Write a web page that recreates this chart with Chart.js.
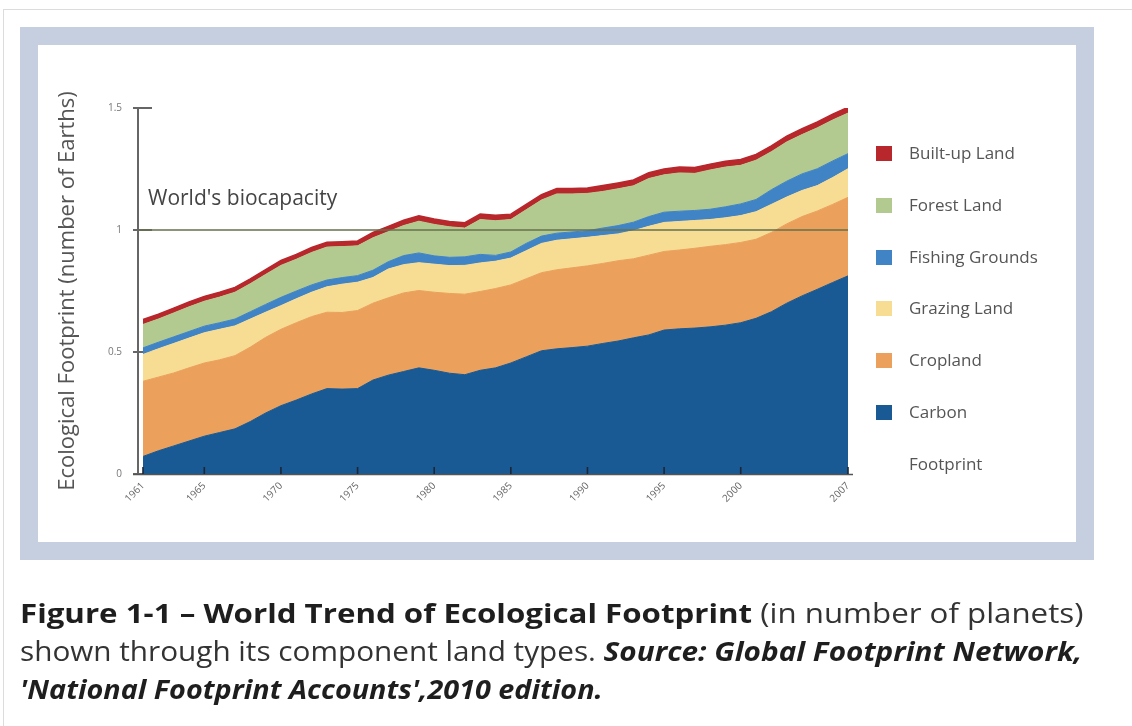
<!DOCTYPE html>
<html lang="en">
<head>
<meta charset="utf-8">
<title>World Trend of Ecological Footprint</title>
<script src="https://cdn.jsdelivr.net/npm/chart.js@4.4.1/dist/chart.umd.min.js"></script>
<style>
  html, body { margin: 0; padding: 0; background: #fff; }
  body { width: 1132px; height: 726px; position: relative; overflow: hidden; font-family: "Open Sans", sans-serif; }
  #page { position: absolute; left: 3px; top: 9px; width: 1140px; height: 730px; border: 1px solid #dcdcdc; }
  #frame { position: absolute; left: 20px; top: 27px; width: 1074px; height: 533px; background: #c6cfe0; }
  #inner { position: absolute; left: 18px; top: 18px; right: 18px; bottom: 18px; background: #fff; }
  #wrap { position: absolute; left: 0; top: 0; width: 1132px; height: 726px; }
  .leg { position: absolute; left: 876px; font-size: 17px; color: #555; }
  .leg .sw { position: absolute; left: 0; top: -7px; width: 16px; height: 15px; }
  .leg .tx { position: absolute; left: 33px; top: -26px; white-space: pre; line-height: 51.8px; }
  .cap { position: absolute; left: 20px; white-space: nowrap; font-size: 27px; line-height: 27px; color: #333; transform-origin: 0 50%; }
  .cap b { color: #1e1e1e; }
</style>
</head>
<body>
<div id="page"></div>
<div id="frame"><div id="inner"></div></div>
<div id="wrap"><canvas id="myChart" width="1132" height="726"></canvas></div>
<div id="legend"></div>
<div class="cap" id="cap1" style="top:599px"><b>Figure 1-1 – World Trend of Ecological Footprint</b> (in number of planets)</div>
<div class="cap" id="cap2" style="top:637px">shown through its component land types. <b><i>Source: Global Footprint Network,</i></b></div>
<div class="cap" id="cap3" style="top:675px"><b><i>'National Footprint Accounts',2010 edition.</i></b></div>
<script>
// values (number of Earths)
const years = [1961,1962,1963,1964,1965,1966,1967,1968,1969,1970,
               1971,1972,1973,1974,1975,1976,1977,1978,1979,1980,
               1981,1982,1983,1984,1985,1986,1987,1988,1989,1990,
               1991,1992,1993,1994,1995,1996,1997,1998,1999,2000,
               2001,2002,2003,2004,2005,2006,2007];
const tickYears = [1961,1965,1970,1975,1980,1985,1990,1995,2000,2007];

const carbon   = [0.072,0.095,0.115,0.135,0.155,0.170,0.185,0.215,0.250,0.280,
                  0.303,0.328,0.350,0.348,0.350,0.385,0.405,0.420,0.435,0.425,
                  0.413,0.407,0.425,0.435,0.455,0.480,0.505,0.513,0.518,0.524,
                  0.535,0.545,0.558,0.570,0.590,0.595,0.598,0.603,0.610,0.620,
                  0.638,0.665,0.700,0.730,0.757,0.785,0.812];
const cropland = [0.308,0.302,0.299,0.300,0.300,0.298,0.300,0.305,0.310,0.313,
                  0.317,0.317,0.313,0.314,0.320,0.315,0.317,0.322,0.317,0.320,
                  0.327,0.330,0.323,0.325,0.320,0.320,0.320,0.324,0.327,0.329,
                  0.328,0.329,0.324,0.327,0.322,0.323,0.327,0.330,0.330,0.329,
                  0.324,0.325,0.325,0.325,0.321,0.320,0.322];
const grazing  = [0.110,0.116,0.121,0.122,0.124,0.125,0.122,0.115,0.103,0.097,
                  0.098,0.100,0.104,0.116,0.116,0.105,0.118,0.116,0.114,0.115,
                  0.114,0.118,0.117,0.112,0.110,0.115,0.120,0.121,0.119,0.117,
                  0.114,0.110,0.115,0.118,0.119,0.117,0.114,0.110,0.110,0.110,
                  0.113,0.115,0.110,0.107,0.104,0.110,0.117];
const fishing  = [0.027,0.027,0.027,0.027,0.027,0.027,0.028,0.030,0.032,0.034,
                  0.032,0.030,0.028,0.027,0.027,0.030,0.030,0.037,0.040,0.034,
                  0.034,0.035,0.035,0.024,0.025,0.030,0.030,0.029,0.028,0.027,
                  0.031,0.034,0.035,0.040,0.042,0.042,0.041,0.042,0.045,0.048,
                  0.050,0.060,0.065,0.068,0.069,0.068,0.062];
const forest   = [0.096,0.095,0.098,0.101,0.102,0.105,0.110,0.115,0.123,0.131,
                  0.130,0.133,0.135,0.127,0.122,0.133,0.123,0.123,0.130,0.129,
                  0.125,0.118,0.143,0.142,0.133,0.138,0.148,0.161,0.156,0.153,
                  0.150,0.151,0.149,0.156,0.153,0.157,0.152,0.161,0.163,0.158,
                  0.161,0.156,0.161,0.161,0.168,0.168,0.166];
const builtUp  = [0.020,0.020,0.020,0.020,0.020,0.020,0.020,0.020,0.020,0.020,
                  0.020,0.020,0.020,0.020,0.020,0.022,0.022,0.022,0.022,0.022,
                  0.022,0.022,0.022,0.022,0.022,0.022,0.022,0.022,0.022,0.022,
                  0.024,0.024,0.024,0.024,0.024,0.024,0.024,0.024,0.024,0.024,
                  0.024,0.024,0.024,0.024,0.024,0.024,0.024];
const biocapacity = 1;

const seriesNames  = ['Carbon\nFootprint','Cropland','Grazing Land','Fishing Grounds','Forest Land','Built-up Land'];
const seriesColors = ['#195a94','#eba15c','#f7dc93','#4084c6','#b2c98f','#b8272b'];
const seriesData   = [carbon, cropland, grazing, fishing, forest, builtUp];

// legend, top item is the last layer
const legend = document.getElementById('legend');
for (let i = 0; i < seriesNames.length; i++) {
  const k = seriesNames.length - 1 - i;
  const d = document.createElement('div');
  d.className = 'leg';
  d.style.top = (153 + i * 51.8) + 'px';
  d.innerHTML = '<div class="sw" style="background:' + seriesColors[k] + '"></div>' +
                '<div class="tx">' + seriesNames[k] + '</div>';
  legend.appendChild(d);
}

const decor = {
  id: 'decor',
  beforeDatasetsDraw(chart) {
    const ctx = chart.ctx, ca = chart.chartArea, y = chart.scales.y;
    const ax = ca.left - 5;
    ctx.save();
    ctx.strokeStyle = '#666';
    ctx.lineWidth = 2;
    y.ticks.forEach(t => {
      const py = y.getPixelForValue(t.value);
      ctx.beginPath(); ctx.moveTo(ax - 5, py); ctx.lineTo(ax + 14, py); ctx.stroke();
    });
    ctx.restore();
  },
  afterDatasetsDraw(chart) {
    const ctx = chart.ctx, ca = chart.chartArea, x = chart.scales.x, y = chart.scales.y;
    const ax = ca.left - 5;
    ctx.save();
    // biocapacity line
    const by = y.getPixelForValue(biocapacity);
    ctx.strokeStyle = '#65704c';
    ctx.lineWidth = 1.6;
    ctx.beginPath(); ctx.moveTo(ax, by); ctx.lineTo(ca.right, by); ctx.stroke();
    ctx.fillStyle = '#444';
    ctx.font = '21px "Open Sans"';
    ctx.textBaseline = 'middle';
    ctx.fillText("World's biocapacity", ca.left + 5, by - 31);
    // axes
    ctx.strokeStyle = '#666';
    ctx.lineWidth = 2;
    ctx.beginPath(); ctx.moveTo(ax, y.getPixelForValue(1.5)); ctx.lineTo(ax, ca.bottom + 1); ctx.stroke();
    ctx.strokeStyle = '#555';
    ctx.lineWidth = 1.5;
    ctx.beginPath(); ctx.moveTo(ax - 5, ca.bottom + 0.5); ctx.lineTo(ca.right + 5, ca.bottom + 0.5); ctx.stroke();
    // year ticks
    ctx.strokeStyle = '#1c2636';
    ctx.lineWidth = 1.6;
    tickYears.forEach(yr => {
      const px = x.getPixelForValue(years.indexOf(yr));
      ctx.beginPath(); ctx.moveTo(px, ca.bottom); ctx.lineTo(px, ca.bottom - 7); ctx.stroke();
    });
    ctx.restore();
  }
};

new Chart(document.getElementById('myChart'), {
  type: 'line',
  data: {
    labels: years,
    datasets: seriesData.map((d, i) => ({
      label: seriesNames[i],
      data: d,
      backgroundColor: seriesColors[i],
      borderColor: seriesColors[i],
      borderWidth: i === 5 ? 1.5 : 1,
      pointRadius: 0,
      tension: 0,
      fill: i === 0 ? 'origin' : '-1'
    }))
  },
  options: {
    responsive: false,
    animation: false,
    events: [],
    layout: { padding: { left: 51, top: 108, right: 284, bottom: 0 } },
    plugins: { legend: { display: false }, tooltip: { enabled: false } },
    scales: {
      x: {
        grid: { display: false, drawTicks: false },
        border: { display: false },
        ticks: {
          autoSkip: false, minRotation: 45, maxRotation: 45, padding: 6,
          color: '#666', font: { family: 'Open Sans', size: 10 },
          callback: function(v) { const yr = years[v]; return tickYears.includes(yr) ? String(yr) : ''; }
        },
        afterFit(s) { s.height = 726 - 474; }
      },
      y: {
        stacked: true,
        min: 0, max: 1.5,
        grid: { display: false, drawTicks: false },
        border: { display: false },
        ticks: { stepSize: 0.5, padding: 21, color: '#777', font: { family: 'Open Sans', size: 10 },
                 callback: v => String(v) },
        title: { display: true, text: 'Ecological Footprint (number of Earths)', color: '#555',
                 font: { family: 'Open Sans', size: 22 }, padding: { top: 4, bottom: 4 } },
        afterFit(s) { s.width = 143 - 51; }
      }
    }
  },
  plugins: [decor]
});

// squeeze the caption lines to the widths they have in the figure
const capWidths = { cap1: 1063, cap2: 1062, cap3: 583 };
Object.keys(capWidths).forEach(id => {
  const el = document.getElementById(id);
  el.style.transform = 'scaleX(' + (capWidths[id] / el.scrollWidth) + ')';
});
</script>
</body>
</html>
